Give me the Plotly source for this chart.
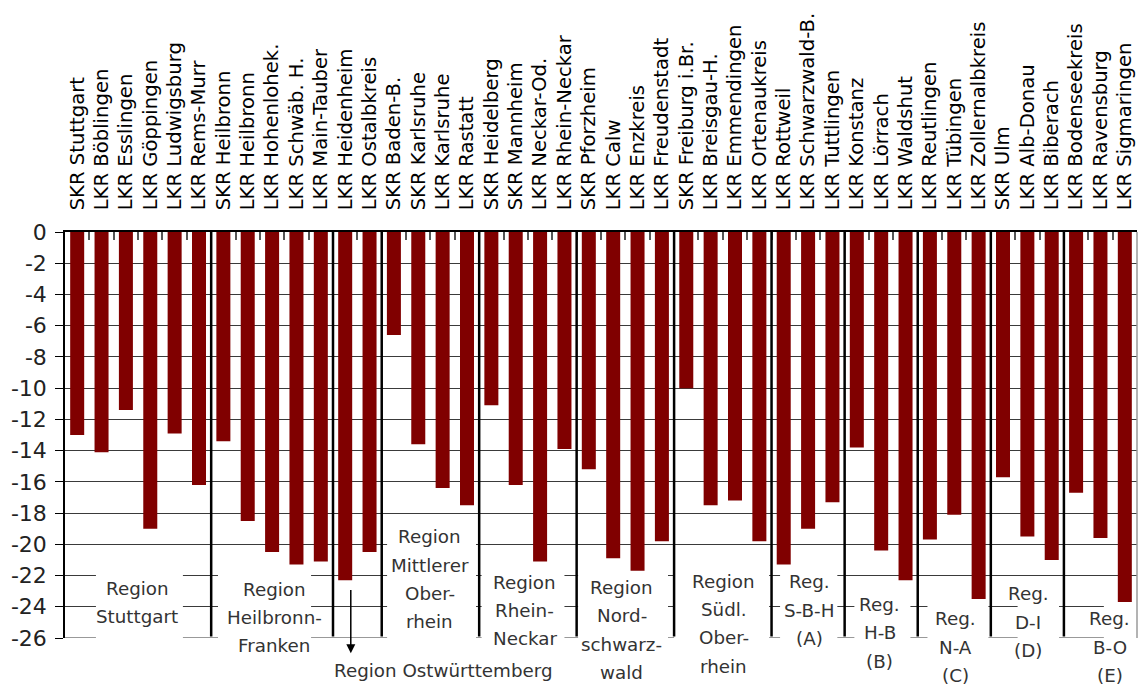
import plotly.graph_objects as go

categories = [
    "SKR Stuttgart", "LKR Böblingen", "LKR Esslingen", "LKR Göppingen", "LKR Ludwigsburg", "LKR Rems-Murr",
    "SKR Heilbronn", "LKR Heilbronn", "LKR Hohenlohek.", "LKR Schwäb. H.", "LKR Main-Tauber",
    "LKR Heidenheim", "LKR Ostalbkreis",
    "SKR Baden-B.", "SKR Karlsruhe", "LKR Karlsruhe", "LKR Rastatt",
    "SKR Heidelberg", "SKR Mannheim", "LKR Neckar-Od.", "LKR Rhein-Neckar",
    "SKR Pforzheim", "LKR Calw", "LKR Enzkreis", "LKR Freudenstadt",
    "SKR Freiburg i.Br.", "LKR Breisgau-H.", "LKR Emmendingen", "LKR Ortenaukreis",
    "LKR Rottweil", "LKR Schwarzwald-B.", "LKR Tuttlingen",
    "LKR Konstanz", "LKR Lörrach", "LKR Waldshut",
    "LKR Reutlingen", "LKR Tübingen", "LKR Zollernalbkreis",
    "SKR Ulm", "LKR Alb-Donau", "LKR Biberach",
    "LKR Bodenseekreis", "LKR Ravensburg", "LKR Sigmaringen",
]

values = [
    -13.0, -14.1, -11.4, -19.0, -12.9, -16.2,
    -13.4, -18.5, -20.5, -21.3, -21.1,
    -22.3, -20.5,
    -6.6, -13.6, -16.4, -17.5,
    -11.1, -16.2, -21.1, -13.9,
    -15.2, -20.9, -21.7, -19.8,
    -10.0, -17.5, -17.2, -19.8,
    -21.3, -19.0, -17.3,
    -13.8, -20.4, -22.3,
    -19.7, -18.1, -23.5,
    -15.7, -19.5, -21.0,
    -16.7, -19.6, -23.7,
]

group_sizes = [6, 5, 2, 4, 4, 4, 4, 3, 3, 3, 3, 3]

y_ticks = list(range(0, -27, -2))
Y_MIN, Y_MAX = -26, 0

# region labels: (lines, x index, y centre in data units, white box [x0, x1, ytop, ybottom])
region_labels = [
    (["Region", "Stuttgart"], 2.46, -23.72, [0.77, 4.34, -21.0, -26.6]),
    (["Region", "Heilbronn-", "Franken"], 8.08, -24.68, [5.78, 9.6, -21.0, -27.5]),
    (["Region", "Mittlerer", "Ober-", "rhein"], 14.48, -22.24, [12.72, 16.37, -19.3, -26.05]),
    (["Region", "Rhein-", "Neckar"], 18.38, -24.23, [16.6, 20.0, -21.0, -27.5]),
    (["Region", "Nord-", "schwarz-", "wald"], 22.35, -25.48, [20.56, 24.25, -21.0, -28.5]),
    (["Region", "Südl.", "Ober-", "rhein"], 26.53, -25.08, [24.5, 28.4, -21.0, -28.5]),
    (["Reg.", "S-B-H", "(A)"], 30.04, -24.21, [28.85, 31.2, -21.0, -27.5]),
    (["Reg.", "H-B", "(B)"], 32.95, -25.67, [31.9, 34.2, -23.0, -28.5]),
    (["Reg.", "N-A", "(C)"], 36.06, -26.58, [34.9, 37.4, -23.0, -28.5]),
    (["Reg.", "D-I", "(D)"], 39.03, -24.98, [38.6, 40.3, -22.3, -28.5]),
    (["Reg.", "B-O", "(E)"], 42.38, -26.58, [42.14, 43.6, -23.0, -28.5]),
]


def to_paper(v):
    return (v - Y_MIN) / (Y_MAX - Y_MIN)


FONT = "DejaVu Sans"
LINE_PX = 28.3

fig = go.Figure()
fig.add_trace(go.Bar(
    x=list(range(len(categories))),
    y=values,
    marker=dict(color="#800000", line=dict(width=0)),
    hoverinfo="skip",
))

shapes = []
# bottom gray line at -26
shapes.append(dict(type="line", xref="paper", yref="y", x0=0, x1=1, y0=Y_MIN, y1=Y_MIN,
                   line=dict(color="#999999", width=2), layer="between"))
# white boxes behind region texts
for lines, xc, yc, box in region_labels:
    shapes.append(dict(type="rect", xref="x", yref="y", x0=box[0], x1=box[1], y0=box[3], y1=box[2],
                       fillcolor="white", line=dict(width=0), layer="between"))
# region separators
pos = 0
for g in group_sizes[:-1]:
    pos += g
    shapes.append(dict(type="line", xref="x", yref="y", x0=pos - 0.5, x1=pos - 0.5, y0=0, y1=-25.9,
                       line=dict(color="black", width=2.5), layer="above"))
# right border
shapes.append(dict(type="line", xref="paper", yref="y", x0=1, x1=1, y0=0, y1=Y_MIN,
                   line=dict(color="#9a9a9a", width=1.5), layer="above"))

annotations = []
for lines, xc, yc, box in region_labels:
    n = len(lines)
    for i, t in enumerate(lines):
        annotations.append(dict(
            x=xc, y=to_paper(yc), xref="x", yref="paper", text=t, showarrow=False,
            yshift=-(i - (n - 1) / 2) * LINE_PX,
            font=dict(family=FONT, size=18.3, color="#333333"),
            xanchor="center", yanchor="middle",
        ))
# Ostwürttemberg label with arrow
annotations.append(dict(x=15.02, y=to_paper(-28.07), xref="x", yref="paper", text="Region Ostwürttemberg",
                        showarrow=False, font=dict(family=FONT, size=18.3, color="#333333"),
                        xanchor="center", yanchor="middle"))
annotations.append(dict(x=11.23, y=to_paper(-26.98), xref="x", yref="paper",
                        ax=0, ay=-(26.98 - 22.82) * 15.6,
                        text="", showarrow=True,
                        arrowhead=2, arrowsize=1.2, arrowwidth=1.5, arrowcolor="black"))

fig.update_layout(
    width=1142, height=685,
    margin=dict(l=65, r=5, t=232, b=47),
    paper_bgcolor="white", plot_bgcolor="white",
    showlegend=False,
    bargap=0.425,
    shapes=shapes,
    annotations=annotations,
    font=dict(family=FONT, color="black"),
)
fig.update_xaxes(
    type="linear",
    range=[-0.5, len(categories) - 0.5],
    tickmode="array",
    tickvals=list(range(len(categories))),
    ticktext=categories,
    side="top",
    tickangle=-90,
    tickfont=dict(family=FONT, size=19.6, color="black"),
    ticks="",
    showline=True, linecolor="black", linewidth=1.5,
    showgrid=False, zeroline=False,
    ticklabelstandoff=16,
)
# boundary ticks via minor ticks
fig.update_xaxes(minor=dict(tickmode="array",
                            tickvals=[i + 0.5 for i in range(len(categories) - 1)],
                            ticks="inside", ticklen=8, tickwidth=1.5, tickcolor="#555555",
                            showgrid=False))
fig.update_yaxes(
    range=[Y_MIN, Y_MAX],
    tickmode="array", tickvals=y_ticks, ticktext=[str(v) for v in y_ticks],
    tickfont=dict(family=FONT, size=22, color="#222222"),
    ticks="outside", ticklen=8, tickwidth=1.3, tickcolor="black",
    showline=True, linecolor="black", linewidth=1.5,
    showgrid=True, gridcolor="#3a3a3a", gridwidth=1,
    zeroline=False,
    ticklabelstandoff=4,
)

fig.write_html("out.html", config={"displayModeBar": False},
               post_script="document.body.style.margin='0';document.body.style.overflow='hidden';")
